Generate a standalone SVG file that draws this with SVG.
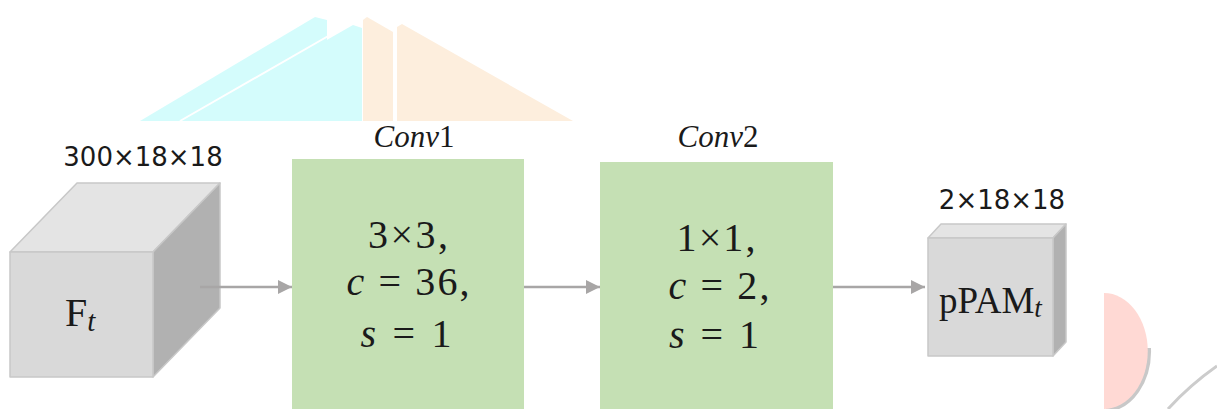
<svg xmlns="http://www.w3.org/2000/svg" width="1217" height="409" viewBox="0 0 1217 409">
<style>
.bg{stroke:none}
.cube path{stroke:#c8c8c8;stroke-width:1.5;stroke-linejoin:round}
.front{fill:#d9d9d9}
.top{fill:#e4e4e4}
.side{fill:#b1b1b1}
.conv{fill:#c5e0b4;stroke:none}
.lbl{font-family:"DejaVu Sans",sans-serif;font-size:26px;fill:#1a1a1a}
.math{font-family:"Liberation Serif",serif;fill:#1a1a1a}
.it{font-style:italic}
.conn line{stroke:#a8a6a6;stroke-width:2.5}
</style>
<defs>
<marker id="ah" viewBox="0 0 10 10" refX="10" refY="5" markerWidth="5.6" markerHeight="5.6" markerUnits="strokeWidth" orient="auto">
<path d="M0,0 L10,5 L0,10 Z" fill="#a8a6a6"/>
</marker>
</defs>
<g id="background">
<path class="bg" fill="#d4fcfc" d="M140,121 L315,17 L327,20 L327,121 Z"/>
<path class="bg" fill="#d4fcfc" d="M185,121 L353,25 L362,28 L362,121 Z"/>
<path fill="none" stroke="#ffffff" stroke-width="2" d="M180,121 L330,35"/>
<path class="bg" fill="#fdeedd" d="M363,121 L363,20 L367,17 L393,32 L393,121 Z"/>
<path class="bg" fill="#fdeedd" d="M397,121 L397,27 L402,24 L573,121 Z"/>
<path fill="none" stroke="#c8c8c8" stroke-width="4" d="M1149,348 A45,59 0 0 1 1106,410"/>
<path class="bg" fill="#ffd9d4" d="M1104,293 A43,57 0 0 1 1104,409 Z"/>
<path fill="none" stroke="#cccccc" stroke-width="3" d="M1168,409 Q1190,385 1217,366"/>
</g>
<g id="Ft" class="cube">
<path class="top" d="M10,252 L77,183 L220,183 L153,252 Z"/>
<path class="side" d="M153,252 L220,183 L220,308 L153,377 Z"/>
<path class="front" d="M10,252 L153,252 L153,377 L10,377 Z"/>
<text class="lbl" x="143" y="166" text-anchor="middle">300×18×18</text>
<text class="math" x="65" y="326" font-size="40">F<tspan class="it" font-size="29" dy="5">t</tspan></text>
</g>
<g id="conv1">
<rect class="conv" x="292" y="159" width="232" height="250"/>
<text class="math it" x="414" y="147" font-size="31" text-anchor="middle">Conv<tspan font-style="normal">1</tspan></text>
<text class="math" x="408" y="248" font-size="40" text-anchor="middle" textLength="80" lengthAdjust="spacing">3×3,</text>
<text class="math" x="408" y="295" font-size="40" text-anchor="middle" textLength="123" lengthAdjust="spacing"><tspan class="it">c</tspan> = 36,</text>
<text class="math" x="406" y="347" font-size="40" text-anchor="middle" textLength="91" lengthAdjust="spacing"><tspan class="it">s</tspan> = 1</text>
</g>
<g id="conv2">
<rect class="conv" x="600" y="162" width="233" height="247"/>
<text class="math it" x="718" y="147" font-size="31" text-anchor="middle">Conv<tspan font-style="normal">2</tspan></text>
<text class="math" x="716" y="251" font-size="40" text-anchor="middle" textLength="79" lengthAdjust="spacing">1×1,</text>
<text class="math" x="719" y="299" font-size="40" text-anchor="middle" textLength="101" lengthAdjust="spacing"><tspan class="it">c</tspan> = 2,</text>
<text class="math" x="714" y="348" font-size="40" text-anchor="middle" textLength="90" lengthAdjust="spacing"><tspan class="it">s</tspan> = 1</text>
</g>
<g id="pPAM" class="cube">
<path class="top" d="M928,238 L941,224 L1066,224 L1053,238 Z"/>
<path class="side" d="M1053,238 L1066,224 L1066,342 L1053,356 Z"/>
<path class="front" d="M928,238 L1053,238 L1053,356 L928,356 Z"/>
<text class="lbl" x="1002" y="209" text-anchor="middle">2×18×18</text>
<text class="math" x="939" y="313" font-size="37">pPAM<tspan class="it" font-size="27" dy="4">t</tspan></text>
</g>
<g id="connectors" class="conn">
<line x1="200" y1="287" x2="292" y2="287" marker-end="url(#ah)"/>
<line x1="524" y1="287" x2="600" y2="287" marker-end="url(#ah)"/>
<line x1="833" y1="287" x2="925" y2="287" marker-end="url(#ah)"/>
</g>
</svg>
